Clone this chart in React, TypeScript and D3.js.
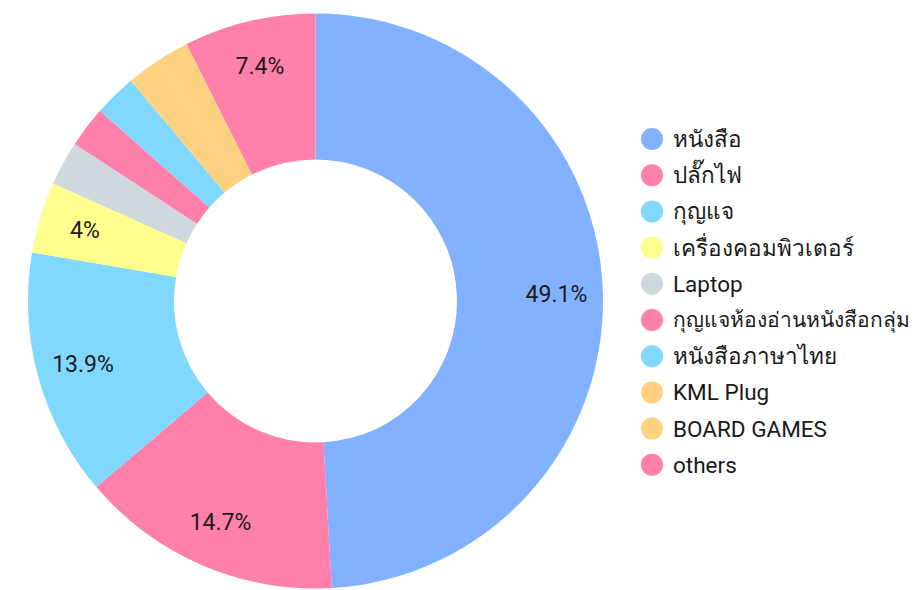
import React, { useEffect, useRef } from "react";
import * as d3 from "d3";

const categories = [
  "หนังสือ",
  "ปลั๊กไฟ",
  "กุญแจ",
  "เครื่องคอมพิวเตอร์",
  "Laptop",
  "กุญแจห้องอ่านหนังสือกลุ่ม",
  "หนังสือภาษาไทย",
  "KML Plug",
  "BOARD GAMES",
  "others",
];
const values = [49.1, 14.7, 13.9, 4.0, 2.5, 2.3, 2.4, 2.0, 1.7, 7.4];
const labels = ["49.1%", "14.7%", "13.9%", "4%", "", "", "", "", "", "7.4%"];
const colors = [
  "#82B1FF",
  "#FF80AB",
  "#80D8FF",
  "#FFFF8D",
  "#CFD8DC",
  "#FF80AB",
  "#80D8FF",
  "#FFD180",
  "#FFD180",
  "#FF80AB",
];

const W = 919;
const H = 590;
const FONT = "Roboto, 'Noto Sans', 'DejaVu Sans', sans-serif";

export default function App() {
  const ref = useRef<SVGSVGElement | null>(null);

  useEffect(() => {
    const svg = d3.select(ref.current);
    svg.selectAll("*").remove();

    const cx = 315.5;
    const cy = 301;
    const outerR = 287.5;
    const innerR = 141.5;
    const labelR = 241;

    const data = categories.map((c, i) => ({ name: c, value: values[i], label: labels[i], color: colors[i] }));

    const pie = d3
      .pie<any>()
      .value((d) => d.value)
      .sort(null)
      .startAngle(0)
      .endAngle(2 * Math.PI);
    const arcs = pie(data);

    const arc = d3.arc<any>().innerRadius(innerR).outerRadius(outerR);
    const labelArc = d3.arc<any>().innerRadius(labelR).outerRadius(labelR);

    const g = svg.append("g").attr("transform", `translate(${cx},${cy})`);
    g.selectAll("path")
      .data(arcs)
      .join("path")
      .attr("d", arc)
      .attr("fill", (d: any) => d.data.color);

    g.selectAll("text")
      .data(arcs.filter((d: any) => d.data.label))
      .join("text")
      .attr("transform", (d: any) => `translate(${labelArc.centroid(d)})`)
      .attr("text-anchor", "middle")
      .attr("dominant-baseline", "central")
      .attr("font-family", FONT)
      .attr("font-size", 23)
      .attr("fill", "#1a1a1a")
      .text((d: any) => d.data.label);

    const legendX = 652;
    const legendY0 = 139;
    const legendStep = 36.2;
    const textX = 21;
    const maxTextW = W - legendX - textX - 8;
    const lg = svg.append("g");
    const rows = lg
      .selectAll("g")
      .data(data)
      .join("g")
      .attr("transform", (_d, i) => `translate(${legendX},${legendY0 + i * legendStep})`);
    rows.append("circle").attr("r", 11).attr("fill", (d: any) => d.color);
    rows
      .append("text")
      .attr("x", textX)
      .attr("dominant-baseline", "central")
      .attr("font-family", FONT)
      .attr("font-size", 22.5)
      .attr("fill", "#1a1a1a")
      .text((d: any) => d.name)
      .each(function () {
        const el = this as SVGTextElement;
        const w = el.getComputedTextLength();
        if (w > maxTextW) {
          el.setAttribute("font-size", String(22.5 * (maxTextW / w)));
        }
      });
  }, []);

  return (
    <div style={{ position: "fixed", left: 0, top: 0, width: W, height: H, background: "#fff" }}>
      <svg ref={ref} width={W} height={H} style={{ display: "block" }} />
    </div>
  );
}
